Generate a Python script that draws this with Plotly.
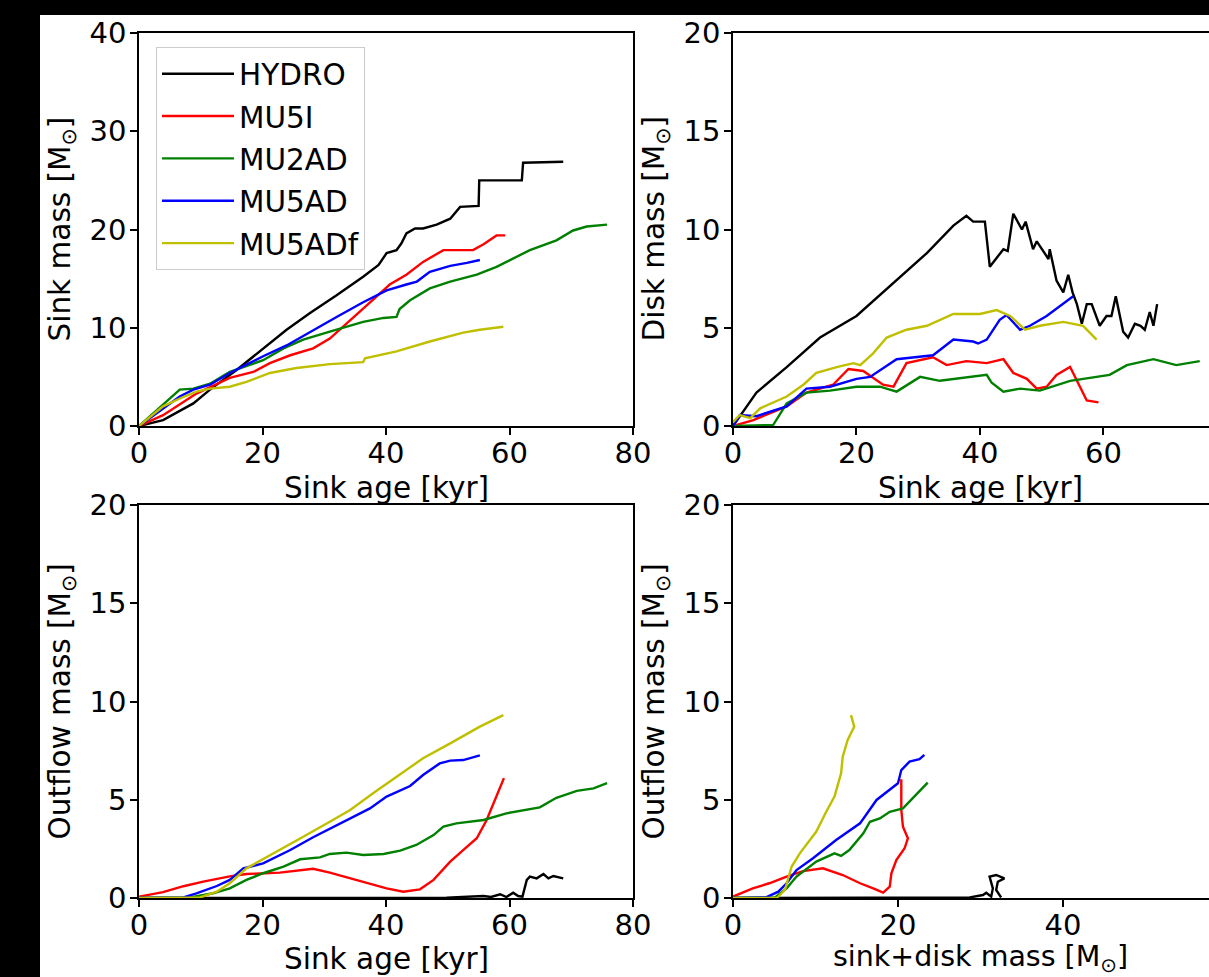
import plotly.graph_objects as go

W, H = 1209, 977
FONT = "DejaVu Sans"
FS = 29.5
TFS = 29

names = ["HYDRO", "MU5I", "MU2AD", "MU5AD", "MU5ADf"]
colors = ["#000000", "#ff0000", "#008000", "#0000ff", "#bfbf00"]

# ---------------- Panel A: sink mass vs sink age ----------------
a_hydro_t = [0, 3.9, 8.8, 11.5, 15.8, 20.1, 23.9, 27.7, 32, 36.3, 38.8, 40.1, 41.7, 42.5, 43.3, 44.7, 46, 48.2, 50.4, 52, 55, 55.1, 62, 62.2, 68.7]
a_hydro_m = [0, 0.6, 2.3, 3.7, 5.7, 7.9, 9.8, 11.5, 13.3, 15.2, 16.4, 17.6, 17.9, 18.6, 19.6, 20.1, 20.1, 20.5, 21.1, 22.3, 22.4, 25.0, 25.0, 26.8, 26.9]
a_mu5i_t = [0, 3.9, 9.3, 14.7, 18.5, 21.2, 24.5, 28.2, 30.9, 33.6, 36.3, 38.5, 40.6, 43.3, 46, 49.3, 52.5, 54.1, 55.8, 57.9, 59.3]
a_mu5i_m = [0, 1.1, 3.3, 4.9, 5.5, 6.4, 7.2, 7.9, 8.9, 10.4, 12.0, 13.2, 14.4, 15.4, 16.7, 17.9, 17.9, 17.9, 18.5, 19.4, 19.4]
a_mu2ad_t = [0, 6.6, 8.8, 11.5, 14.7, 20.1, 23.4, 26.6, 30.9, 36.3, 39.6, 41.7, 42.2, 43.9, 47.1, 50.4, 54.7, 57.9, 63.3, 67.6, 70.3, 72.5, 75.8]
a_mu2ad_m = [0, 3.7, 3.8, 4.3, 5.5, 6.7, 7.9, 8.8, 9.6, 10.6, 11.0, 11.1, 11.9, 12.8, 14.0, 14.7, 15.4, 16.2, 17.9, 18.9, 19.9, 20.3, 20.5]
a_mu5ad_t = [0, 3.9, 6.6, 8.8, 11.5, 14.7, 20.1, 23.9, 27.2, 32, 36.3, 40.1, 43.3, 45, 47.1, 50.4, 53.1, 55.2]
a_mu5ad_m = [0, 1.8, 3.0, 3.7, 4.2, 5.4, 7.1, 8.2, 9.4, 11.1, 12.6, 13.8, 14.4, 14.7, 15.7, 16.3, 16.6, 16.9]
a_mu5adf_t = [0, 3.9, 6.6, 9.3, 11.5, 14.7, 17.4, 21.2, 25.5, 30.9, 36.3, 36.6, 41.7, 47.1, 52.5, 55.2, 59]
a_mu5adf_m = [0, 2.0, 2.8, 3.5, 3.8, 4.0, 4.5, 5.4, 5.9, 6.3, 6.5, 6.9, 7.6, 8.6, 9.5, 9.8, 10.1]

# ---------------- Panel B: disk mass vs sink age ----------------
b_hydro_t = [0, 3.8, 8.7, 14.1, 20, 24.3, 27.6, 31.4, 35.7, 37.8, 38.9, 40.8, 41.6, 43.8, 44.5, 45.4, 46.8, 47.4, 48.6, 49.2, 51.1, 51.3, 52.4, 53.5, 54.3, 55, 55.7, 56.5, 57.3, 58.1, 59.4, 60.5, 61.3, 62, 63.2, 64, 65.1, 66, 66.7, 67.5, 68.1, 68.7]
b_hydro_m = [0, 1.7, 3.0, 4.5, 5.6, 6.8, 7.7, 8.8, 10.2, 10.7, 10.4, 10.4, 8.1, 9.0, 8.9, 10.8, 10.0, 10.4, 9.0, 9.4, 8.5, 9.0, 7.4, 6.8, 7.7, 6.8, 6.2, 5.2, 6.2, 6.2, 5.1, 5.6, 5.6, 6.6, 4.8, 4.5, 5.2, 5.1, 4.9, 5.8, 5.1, 6.2]
b_mu5i_t = [0, 3.3, 8.7, 11.9, 16.2, 18.7, 21.1, 24.3, 26, 28.1, 32.4, 34.6, 37.8, 41.1, 43.8, 45.4, 47.6, 49.2, 50.8, 52.4, 54.6, 55.4, 57.3, 59.2]
b_mu5i_m = [0, 0.3, 1.0, 1.7, 2.1, 2.9, 2.8, 2.1, 2.0, 3.2, 3.5, 3.1, 3.3, 3.2, 3.4, 2.7, 2.4, 1.9, 2.0, 2.6, 3.0, 2.5, 1.3, 1.2]
b_mu2ad_t = [0, 6.5, 8.7, 11.9, 15.7, 20, 23.8, 26.5, 30.3, 33.5, 41.1, 41.9, 43.8, 46.5, 49.7, 54.6, 61, 63.8, 68.1, 71.8, 75.6]
b_mu2ad_m = [0, 0.05, 1.15, 1.7, 1.8, 2.0, 2.0, 1.75, 2.5, 2.3, 2.6, 2.2, 1.75, 1.9, 1.8, 2.3, 2.6, 3.1, 3.4, 3.1, 3.3]
b_mu5ad_t = [0, 1.1, 3.8, 8.7, 11.9, 15.7, 20, 22.2, 26.5, 32.4, 35.7, 38.9, 39.7, 41.1, 43.2, 44.3, 46.5, 48.1, 50.8, 55.1]
b_mu5ad_m = [0, 0.56, 0.5, 1.0, 1.9, 2.0, 2.4, 2.5, 3.4, 3.6, 4.4, 4.3, 4.2, 4.4, 5.4, 5.65, 4.9, 5.1, 5.6, 6.6]
b_mu5adf_t = [0, 1.1, 2.8, 4.4, 8.7, 11.4, 13.5, 16.8, 19.5, 20.6, 22.7, 24.9, 28.1, 31.4, 35.7, 40, 42.7, 44.9, 47.3, 49.7, 53.5, 56.7, 58.9]
b_mu5adf_m = [0.2, 0.56, 0.4, 0.9, 1.5, 2.1, 2.7, 3.0, 3.2, 3.1, 3.7, 4.5, 4.9, 5.1, 5.7, 5.7, 5.9, 5.6, 4.9, 5.1, 5.3, 5.1, 4.4]

# ---------------- Panel C: outflow mass vs sink age ----------------
c_hydro_t = [0, 49.8, 55.8, 57, 58.5, 59.5, 60.6, 61.4, 62.1, 62.8, 63.3, 64.4, 65.5, 66.3, 67.1, 68.7]
c_hydro_m = [0, 0.02, 0.1, 0.05, 0.19, 0.05, 0.27, 0.1, 0.07, 0.92, 1.09, 1.0, 1.22, 1.0, 1.12, 1.0]
c_mu5i_t = [0, 3.9, 7.2, 10.4, 14.7, 17.4, 22.8, 25.5, 28.2, 30.9, 36.3, 40.1, 42.8, 45.5, 47.7, 50.4, 52.5, 54.7, 56.3, 57.4, 58.2, 59.1]
c_mu5i_m = [0.07, 0.3, 0.6, 0.83, 1.1, 1.22, 1.29, 1.39, 1.49, 1.29, 0.83, 0.49, 0.32, 0.44, 0.92, 1.85, 2.44, 3.04, 3.97, 4.8, 5.5, 6.1]
c_mu2ad_t = [0, 8.3, 12, 14.7, 17.4, 20.1, 23.4, 26.1, 29.3, 30.9, 33.6, 36.3, 39.6, 42.3, 44.9, 47.7, 49.3, 51.4, 55.8, 59.5, 64.9, 67.6, 70.9, 73.6, 75.8]
c_mu2ad_m = [0, 0.03, 0.24, 0.49, 0.92, 1.26, 1.6, 1.97, 2.07, 2.24, 2.31, 2.19, 2.24, 2.41, 2.7, 3.2, 3.63, 3.8, 3.97, 4.31, 4.61, 5.1, 5.45, 5.58, 5.84]
c_mu5ad_t = [0, 7.2, 9.3, 12.6, 14.7, 16.9, 20.1, 24.5, 28.2, 33.1, 37.4, 40.1, 43.9, 46, 48.7, 50.4, 52.5, 55.2]
c_mu5ad_m = [0, 0.03, 0.24, 0.61, 0.92, 1.51, 1.76, 2.44, 3.09, 3.88, 4.56, 5.16, 5.7, 6.26, 6.85, 6.99, 7.02, 7.26]
c_mu5adf_t = [0, 9.9, 12.6, 14.7, 17.4, 21.2, 26.6, 30.9, 34.2, 37.9, 41.7, 46, 50.4, 52.5, 55.2, 59]
c_mu5adf_m = [0, 0.03, 0.32, 0.75, 1.51, 2.19, 3.12, 3.88, 4.48, 5.33, 6.17, 7.11, 7.87, 8.24, 8.72, 9.31]

# ---------------- Panel D: outflow mass vs sink+disk mass ----------------
d_hydro_x = [0, 28.7, 30.3, 30.7, 31.3, 31.5, 31.1, 31.9, 32.9, 32.1, 31.9, 32.5]
d_hydro_y = [0, 0.03, 0.15, 0.27, 0.07, 0.49, 1.09, 1.17, 1.0, 0.83, 0.41, 0.03]
d_mu5i_x = [0, 2.4, 4.4, 6.5, 8.5, 10.9, 13.3, 15.4, 17, 18.2, 19, 19.2, 19.8, 20.8, 21.2, 20.6, 20.4, 20.4, 20.4]
d_mu5i_y = [0.07, 0.49, 0.75, 1.09, 1.37, 1.51, 1.17, 0.75, 0.49, 0.27, 0.58, 1.26, 1.93, 2.53, 3.04, 3.63, 4.48, 5.41, 6.04]
d_mu2ad_x = [0, 5.1, 6.5, 7.7, 10.1, 12.3, 13.1, 14.1, 15.8, 16.6, 17.8, 19, 20.6, 22.2, 23.6]
d_mu2ad_y = [0, 0.03, 0.49, 1.09, 1.85, 2.27, 2.14, 2.44, 3.29, 3.88, 4.05, 4.39, 4.56, 5.24, 5.87]
d_mu5ad_x = [0, 4, 5.5, 6.5, 7.7, 9.7, 12.5, 15.4, 17.4, 20, 20.4, 21.4, 22.6, 23.2]
d_mu5ad_y = [0, 0.03, 0.32, 0.75, 1.42, 2.02, 2.95, 3.8, 4.99, 5.84, 6.51, 6.94, 7.06, 7.28]
d_mu5adf_x = [0, 5.3, 6.3, 7.1, 8.1, 10.1, 11.3, 12.3, 13.1, 13.3, 13.9, 14.7, 14.3]
d_mu5adf_y = [0, 0, 0.41, 1.59, 2.27, 3.38, 4.39, 5.16, 6.34, 7.19, 8.04, 8.72, 9.31]

panels = [
    ("x", "y", [(a_hydro_t, a_hydro_m), (a_mu5i_t, a_mu5i_m), (a_mu2ad_t, a_mu2ad_m), (a_mu5ad_t, a_mu5ad_m), (a_mu5adf_t, a_mu5adf_m)]),
    ("x2", "y2", [(b_hydro_t, b_hydro_m), (b_mu5i_t, b_mu5i_m), (b_mu2ad_t, b_mu2ad_m), (b_mu5ad_t, b_mu5ad_m), (b_mu5adf_t, b_mu5adf_m)]),
    ("x3", "y3", [(c_hydro_t, c_hydro_m), (c_mu5i_t, c_mu5i_m), (c_mu2ad_t, c_mu2ad_m), (c_mu5ad_t, c_mu5ad_m), (c_mu5adf_t, c_mu5adf_m)]),
    ("x4", "y4", [(d_hydro_x, d_hydro_y), (d_mu5i_x, d_mu5i_y), (d_mu2ad_x, d_mu2ad_y), (d_mu5ad_x, d_mu5ad_y), (d_mu5adf_x, d_mu5adf_y)]),
]

fig = go.Figure()
for pi, (xa, ya, series) in enumerate(panels):
    for si, (xs, ys) in enumerate(series):
        fig.add_trace(go.Scatter(
            x=xs, y=ys, mode="lines", name=names[si],
            line=dict(color=colors[si], width=2.4),
            xaxis=xa, yaxis=ya, showlegend=(pi == 0),
            legendgroup=names[si],
        ))

def px_x(p):
    return p / W

def px_y(p):
    return 1 - p / H

L0, L1 = px_x(139), px_x(633)
R0, R1 = px_x(733), 1.0
T0, T1 = px_y(426), px_y(33)
B0, B1 = px_y(898), px_y(505)

axis_common = dict(
    showline=True, linecolor="black", linewidth=1.5,
    ticks="outside", ticklen=7, tickwidth=1.5, tickcolor="black",
    showgrid=False, zeroline=False, automargin=False,
    tickfont=dict(family=FONT, size=TFS, color="black"),
)
xcommon = dict(ticklabelstandoff=-7, **axis_common)
ycommon = dict(ticklabelstandoff=-2, **axis_common)

fig.update_layout(
    width=W, height=H,
    margin=dict(l=0, r=0, t=0, b=0),
    paper_bgcolor="black", plot_bgcolor="white",
    font=dict(family=FONT, size=FS, color="black"),
    xaxis=dict(domain=[L0, L1], range=[0, 80], dtick=20, mirror=True, anchor="y", **xcommon),
    yaxis=dict(domain=[T0, T1], range=[0, 40], dtick=10, mirror=True, anchor="x", **ycommon),
    xaxis2=dict(domain=[R0, R1], range=[0, 77.1], dtick=20, mirror=True, anchor="y2", **xcommon),
    yaxis2=dict(domain=[T0, T1], range=[0, 20], dtick=5, mirror=False, anchor="x2", **ycommon),
    xaxis3=dict(domain=[L0, L1], range=[0, 80], dtick=20, mirror=True, anchor="y3", **xcommon),
    yaxis3=dict(domain=[B0, B1], range=[0, 20], dtick=5, mirror=True, anchor="x3", **ycommon),
    xaxis4=dict(domain=[R0, R1], range=[0, 57.7], dtick=20, mirror=True, anchor="y4", **xcommon),
    yaxis4=dict(domain=[B0, B1], range=[0, 20], dtick=5, mirror=False, anchor="x4", **ycommon),
    legend=dict(
        x=px_x(156), y=px_y(47), xanchor="left", yanchor="top",
        bgcolor="rgba(255,255,255,0.8)", bordercolor="#cccccc", borderwidth=1,
        font=dict(family=FONT, size=FS, color="black"),
        traceorder="grouped", tracegroupgap=1, itemwidth=72,
    ),
    shapes=[dict(type="rect", xref="paper", yref="paper",
                 x0=px_x(40), x1=1, y0=0, y1=px_y(15),
                 fillcolor="white", line=dict(width=0), layer="below")],
)

ann = []
def title(text, x, y, angle=0, size=FS):
    ann.append(dict(text=text, x=px_x(x), y=px_y(y), xref="paper", yref="paper",
                    showarrow=False, textangle=angle, xanchor="center", yanchor="middle",
                    font=dict(family=FONT, size=size, color="black")))

title("Sink age [kyr]", 386, 488)
title("Sink age [kyr]", 980, 488)
title("Sink age [kyr]", 386, 959)
title("sink+disk mass [M<sub>⊙</sub>]", 980, 958.5, size=28.5)
title("Sink mass [M<sub>⊙</sub>]", 61, 229.5, -90)
title("Disk mass [M<sub>⊙</sub>]", 655, 229.5, -90)
title("Outflow mass [M<sub>⊙</sub>]", 61, 701.5, -90)
title("Outflow mass [M<sub>⊙</sub>]", 655, 701.5, -90)
fig.update_layout(annotations=ann)

fig.write_html(
    "out.html",
    config={"displayModeBar": False},
    post_script="document.body.style.margin='0';document.body.style.background='black';",
)
